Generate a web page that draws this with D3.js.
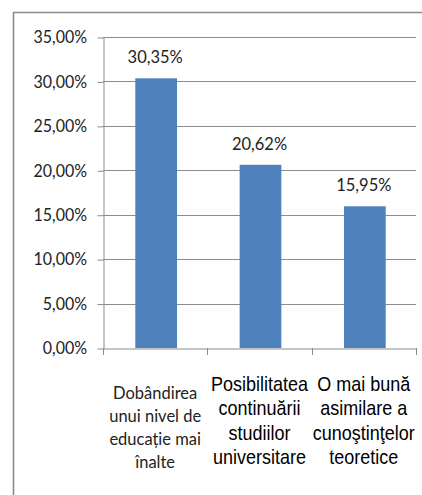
<!DOCTYPE html>
<html>
<head>
<meta charset="utf-8">
<script src="https://cdn.jsdelivr.net/npm/d3@7"></script>
<style>
  html, body { margin: 0; padding: 0; background: #fff; }
  svg { display: block; }
</style>
</head>
<body>
<svg id="chart" width="422" height="495"></svg>
<script>
// ---- data ----
const categories = [
  "Dobândirea unui nivel de educație mai înalte",
  "Posibilitatea continuării studiilor universitare",
  "O mai bună asimilare a cunoştinţelor teoretice"
];
const categoryLines = [
  ["Dobândirea", "unui nivel de", "educație mai", "înalte"],
  ["Posibilitatea", "continuării", "studiilor", "universitare"],
  ["O mai bună", "asimilare a", "cunoştinţelor", "teoretice"]
];
const values = [30.35, 20.62, 15.95];
const yTicks = [0, 5, 10, 15, 20, 25, 30, 35];

// ---- layout ----
const W = 422, H = 495;
const plot = { left: 103, right: 416, top: 37, bottom: 348 };
const fmt = v => v.toFixed(2).replace(".", ",") + "%";

const svg = d3.select("#chart");

// outer chart border (cropped on right/bottom)
svg.append("path")
  .attr("d", `M13.5,${H + 2} L13.5,12.5 L${W + 2},12.5`)
  .attr("fill", "none")
  .attr("stroke", "#8a8a8a")
  .attr("stroke-width", 1.6);

const x = d3.scaleBand().domain(categories).range([plot.left, plot.right]).padding(0);
const y = d3.scaleLinear().domain([0, 35]).range([plot.bottom, plot.top]);

// gridlines
svg.append("g").selectAll("line").data(yTicks.filter(t => t > 0)).join("line")
  .attr("x1", plot.left).attr("x2", plot.right)
  .attr("y1", d => Math.round(y(d)) + 0.5).attr("y2", d => Math.round(y(d)) + 0.5)
  .attr("stroke", "#8c8c8c").attr("stroke-width", 1);

// y axis
const yAxis = d3.axisLeft(y).tickValues(yTicks).tickFormat(() => "").tickSize(6).tickSizeOuter(0);
const gy = svg.append("g").attr("transform", `translate(${plot.left + 0.5},0.5)`).call(yAxis);
gy.selectAll("path, line").attr("stroke", "#8c8c8c");

// y tick labels
svg.append("g").selectAll("text").data(yTicks).join("text")
  .attr("transform", d => `translate(87,${y(d)}) scale(1,1.1)`)
  .attr("dy", "0.36em")
  .attr("text-anchor", "end")
  .attr("font-family", "Lato, 'Open Sans', sans-serif")
  .attr("font-size", 16)
  .attr("fill", "#222")
  .text(d => fmt(d));

// bars
const barW = x.bandwidth() * 0.4;
svg.append("g").selectAll("rect").data(values).join("rect")
  .attr("x", (d, i) => x(categories[i]) + x.bandwidth() / 2 - barW / 2 + 1)
  .attr("y", d => y(d))
  .attr("width", barW)
  .attr("height", d => y(0) - y(d))
  .attr("fill", "#4F81BD");

// x axis
const xAxis = d3.axisBottom(x).tickFormat(() => "").tickSize(0).tickSizeOuter(0);
const gx = svg.append("g").attr("transform", `translate(0,${plot.bottom + 0.5})`).call(xAxis);
gx.select(".domain").attr("stroke", "#8c8c8c");
// tick marks at category boundaries
const bounds = categories.map(c => x(c)).concat([plot.right]);
svg.append("g").selectAll("line").data(bounds).join("line")
  .attr("x1", d => Math.round(d) + 0.5).attr("x2", d => Math.round(d) + 0.5)
  .attr("y1", plot.bottom).attr("y2", plot.bottom + 7)
  .attr("stroke", "#8c8c8c");

// data labels
svg.append("g").selectAll("text").data(values).join("text")
  .attr("transform", (d, i) => `translate(${x(categories[i]) + x.bandwidth() / 2},${y(d) - 15}) scale(1,1.1)`)
  .attr("text-anchor", "middle")
  .attr("font-family", "Lato, 'Open Sans', sans-serif")
  .attr("font-size", 16.5)
  .attr("fill", "#222")
  .text(d => fmt(d));

// category labels
const catStyle = [
  { font: "Lato, 'Open Sans', sans-serif", size: 16.5, first: 398.5, step: 23.2 },
  { font: "'Liberation Sans', Arial, sans-serif", size: 18, first: 390.7, step: 24.4 },
  { font: "'Liberation Sans', Arial, sans-serif", size: 18, first: 390.7, step: 24.4 }
];
categoryLines.forEach((lines, i) => {
  const cx = x(categories[i]) + x.bandwidth() / 2;
  const st = catStyle[i];
  svg.append("g").selectAll("text").data(lines).join("text")
    .attr("transform", (d, j) => `translate(${cx},${st.first + j * st.step}) scale(1,1.08)`)
    .attr("text-anchor", "middle")
    .attr("font-family", st.font)
    .attr("font-size", st.size)
    .attr("fill", i === 0 ? "#222" : "#000")
    .text(d => d);
});
</script>
</body>
</html>
